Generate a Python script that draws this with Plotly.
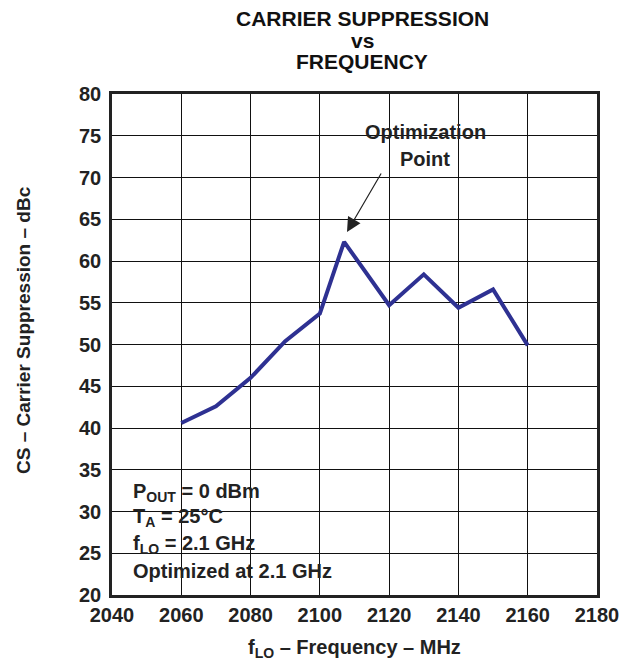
import plotly.graph_objects as go

# ---- data ----
freq_mhz = [2060, 2070, 2080, 2090, 2100, 2107, 2120, 2130, 2140, 2150, 2160]
cs_dbc = [40.6, 42.6, 46.0, 50.4, 53.7, 62.3, 54.7, 58.4, 54.4, 56.6, 49.9]

x_ticks = [2040, 2060, 2080, 2100, 2120, 2140, 2160, 2180]
y_ticks = [20, 25, 30, 35, 40, 45, 50, 55, 60, 65, 70, 75, 80]

title_lines = ["CARRIER SUPPRESSION", "vs", "FREQUENCY"]
cond_lines = ["P<sub>OUT</sub> = 0 dBm", "T<sub>A</sub> = 25°C",
              "f<sub>LO</sub> = 2.1 GHz", "Optimized at 2.1 GHz"]

# page offset (browser default body margin)
OFF = 8
W, H = 639 - OFF, 662 - OFF
# plot area in reference pixels
L, R, T, B = 112, 597, 94, 595
FONT = "Liberation Sans, Arial, Helvetica, sans-serif"
FS = 20


def px(xp):
    return (xp - L) / (R - L)


def py(yp):
    return (B - yp) / (B - T)


fig = go.Figure()
fig.add_trace(go.Scatter(x=freq_mhz, y=cs_dbc, mode="lines",
                         line=dict(color="#2e3192", width=4),
                         hoverinfo="skip", showlegend=False))

axis_common = dict(showgrid=True, gridcolor="#111111", gridwidth=1.3,
                   showline=True, linecolor="#222222", linewidth=2.5, mirror=True,
                   ticks="inside", ticklen=8, tickcolor="#111111", tickwidth=1.3,
                   tickfont=dict(family=FONT, size=FS, color="#222222"),
                   zeroline=False, fixedrange=True, layer="above traces")

fig.update_xaxes(range=[2040, 2180], tickvals=x_ticks,
                 ticktext=["<b>%d</b>" % v for v in x_ticks], **axis_common)
fig.update_yaxes(range=[20, 80], tickvals=y_ticks,
                 ticktext=["<b>%d</b>" % v for v in y_ticks], ticklabelstandoff=4,
                 **axis_common)

shapes = [
    dict(type="rect", xref="paper", yref="paper", layer="between",
         x0=0, x1=px(348), y0=py(588), y1=py(477),
         fillcolor="white", line=dict(width=0)),
    dict(type="rect", xref="paper", yref="paper", layer="between",
         x0=px(349), x1=px(500), y0=py(177), y1=py(117),
         fillcolor="white", line=dict(width=0)),
]

annotations = []
bold = lambda s: "<b>" + s + "</b>"
for txt, yp in zip(title_lines, [18, 40, 61]):
    annotations.append(dict(text=bold(txt), xref="paper", yref="paper",
                            x=px(362), y=py(yp), showarrow=False,
                            xanchor="center", yanchor="middle",
                            font=dict(family=FONT, size=21, color="#111111")))

for txt, yp in zip(cond_lines, [492, 518, 544, 571]):
    annotations.append(dict(text=bold(txt), xref="paper", yref="paper",
                            x=px(131), y=py(yp), showarrow=False,
                            xanchor="left", yanchor="middle",
                            font=dict(family=FONT, size=FS, color="#222222")))

for txt, yp in zip(["Optimization", "Point"], [132, 159]):
    annotations.append(dict(text=bold(txt), xref="paper", yref="paper",
                            x=px(425), y=py(yp), showarrow=False,
                            xanchor="center", yanchor="middle",
                            font=dict(family=FONT, size=FS, color="#222222")))

annotations.append(dict(text="", xref="paper", yref="paper",
                        x=px(347), y=py(232), axref="pixel", ayref="pixel",
                        ax=35, ay=-60, showarrow=True, arrowhead=2,
                        arrowsize=2.4, arrowwidth=1.2, arrowcolor="#222222"))

annotations.append(dict(text="<b>f<sub>LO</sub> – Frequency – MHz</b>",
                        xref="paper", yref="paper", x=px(354.5), y=py(648),
                        showarrow=False, xanchor="center", yanchor="middle",
                        font=dict(family=FONT, size=FS, color="#222222")))
annotations.append(dict(text="<b>CS – Carrier Suppression – dBc</b>",
                        xref="paper", yref="paper", x=px(23), y=py(330),
                        showarrow=False, textangle=-90,
                        xanchor="center", yanchor="middle",
                        font=dict(family=FONT, size=19, color="#222222")))

fig.update_layout(width=W, height=H,
                  margin=dict(l=L - OFF, r=639 - R, t=T - OFF, b=662 - B),
                  paper_bgcolor="white", plot_bgcolor="white",
                  shapes=shapes, annotations=annotations, showlegend=False)

fig.write_html("out.html")
